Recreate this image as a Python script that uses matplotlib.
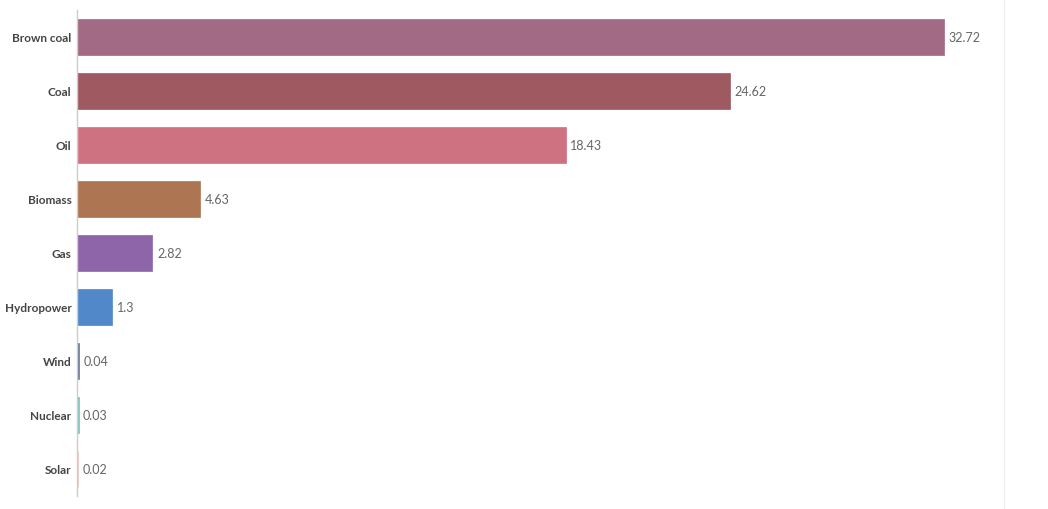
import matplotlib
matplotlib.use("Agg")
from matplotlib import pyplot as plt
from matplotlib.lines import Line2D

# data
sources = ["Brown coal", "Coal", "Oil", "Biomass", "Gas", "Hydropower", "Wind", "Nuclear", "Solar"]
values = [32.72, 24.62, 18.43, 4.63, 2.82, 1.3, 0.04, 0.03, 0.02]
value_labels = ["32.72", "24.62", "18.43", "4.63", "2.82", "1.3", "0.04", "0.03", "0.02"]
colors = ["#a26a85", "#9e5a60", "#ce7282", "#ae7553", "#8e65a8", "#5088ca", "#6a7a96", "#7fc0b8", "#e8c0b8"]

plt.rcParams['font.family'] = ['Lato', 'DejaVu Sans']

fig = plt.figure(figsize=(10.48, 5.09), dpi=100)
ax = fig.add_axes([77 / 1048, 1 - 496 / 509, (1004.5 - 77) / 1048, 486 / 509])

pos = list(range(len(sources)))
# thin edge keeps the tiny bars visible like in the original
ax.barh(pos, values, height=0.67, color=colors, edgecolor=colors, linewidth=0.5, zorder=3)
for p, v, lab in zip(pos, values, value_labels):
    ax.text(v + 0.17, p + 0.01, lab, va="center", ha="left", fontsize=9, color="#666666")

ax.set_ylim(len(sources) - 0.5, -0.5)
ax.set_xlim(-0.03, 35)
ax.set_yticks(pos)
ax.set_yticklabels(sources, fontsize=8.5, fontweight="bold", color="#444444")
ax.tick_params(axis="y", length=0, pad=4)
ax.set_xticks([])
for side in ["top", "right", "bottom"]:
    ax.spines[side].set_visible(False)
ax.spines["left"].set_color("#cccccc")
ax.spines["left"].set_linewidth(1)
ax.spines["left"].set_zorder(1)

# light panel border on the right
fig.add_artist(Line2D([1003.5 / 1048, 1003.5 / 1048], [0, 1], color="#eeeeee", linewidth=1))

plt.savefig("out.png", dpi=100)
